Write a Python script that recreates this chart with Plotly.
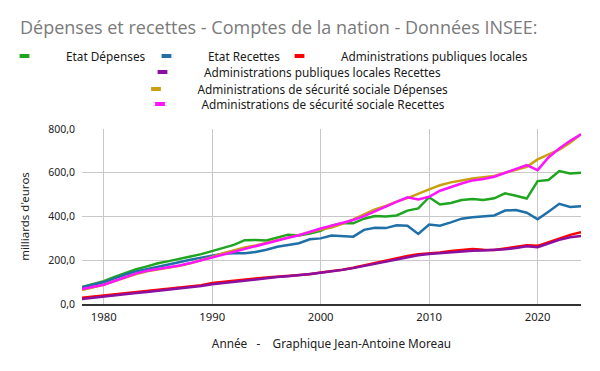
import plotly.graph_objects as go

years = list(range(1978, 2025))

etat_depenses = [78, 91, 104, 124, 143, 159, 172, 186, 196, 205, 217, 228, 243, 255, 270, 292, 293, 290, 303, 317,
                 313, 322, 335, 358, 369, 369, 390, 402, 400, 405, 427, 437, 488, 455, 462, 475, 480, 476, 483, 506,
                 495, 482, 562, 567, 608, 597, 600]
etat_recettes = [76, 87, 99, 117, 135, 149, 160, 172, 183, 192, 202, 212, 222, 230, 232, 232, 238, 248, 262, 270,
                 278, 296, 300, 313, 311, 308, 339, 349, 347, 360, 358, 320, 363, 358, 373, 390, 397, 400, 405, 427,
                 430, 417, 387, 422, 458, 444, 447]
apul_depenses = [28, 33, 38, 44, 50, 56, 60, 65, 70, 75, 80, 86, 96, 102, 108, 112, 117, 121, 125, 127,
                 130, 136, 144, 149, 157, 166, 177, 187, 197, 210, 220, 228, 231, 236, 242, 248, 251, 248, 247, 254,
                 260, 269, 266, 283, 298, 316, 328]
apul_recettes = [23, 29, 34, 39, 44, 50, 55, 60, 65, 70, 75, 82, 90, 96, 102, 108, 113, 118, 123, 127,
                 131, 137, 143, 148, 156, 164, 174, 183, 193, 205, 215, 223, 229, 233, 237, 240, 243, 245, 246, 250,
                 256, 264, 260, 278, 293, 305, 311]
asso_depenses = [64, 75, 88, 105, 122, 137, 150, 158, 166, 175, 186, 200, 215, 232, 246, 258, 268, 280, 291, 305,
                 318, 330, 340, 350, 366, 387, 410, 432, 448, 468, 484, 505, 524, 543, 556, 565, 574, 579, 585, 600,
                 612, 627, 661, 684, 706, 737, 776]
asso_recettes = [68, 78, 88, 105, 123, 140, 152, 160, 166, 176, 187, 200, 214, 228, 240, 254, 266, 278, 292, 303,
                 314, 330, 345, 358, 372, 384, 402, 425, 445, 467, 488, 478, 490, 518, 535, 551, 565, 571, 582, 600,
                 620, 635, 612, 670, 711, 746, 776]

series = [
    ("Etat Dépenses", etat_depenses, "#1fa51f", "legend"),
    ("Etat Recettes", etat_recettes, "#1f6fa8", "legend5"),
    ("Administrations publiques locales", apul_depenses, "#ff0000", "legend6"),
    ("Administrations publiques locales Recettes", apul_recettes, "#8b0fa0", "legend2"),
    ("Administrations de sécurité sociale Dépenses", asso_depenses, "#c9a10e", "legend3"),
    ("Administrations de sécurité sociale Recettes", asso_recettes, "#ff14ff", "legend4"),
]

fig = go.Figure()
for name, vals, color, _ in series:
    fig.add_trace(go.Scatter(x=years, y=vals, mode="lines", name=name,
                             line=dict(color=color, width=2.5), showlegend=False))
for name, vals, color, lg in series:
    fig.add_trace(go.Scatter(x=[None], y=[None], mode="markers", name=name, legend=lg,
                             marker=dict(symbol="line-ew", size=7, line=dict(color=color, width=4))))

# figure pixel geometry (page body has an 8px offset)
W, H = 592, 363
L, R, T, B = 74, 19, 121, 66.7
PW = W - L - R
PH = H - T - B

def py(p):
    return (H - B - p) / PH

def px(p):
    return (p - L) / PW

lfont = dict(family="Noto Sans", size=11.8, color="#1a1a1a")
common = dict(orientation="h", font=lfont, itemwidth=73, bgcolor="rgba(0,0,0,0)",
              yanchor="middle", xanchor="left", tracegroupgap=0, itemclick=False)

fig.update_layout(
    width=W, height=H,
    margin=dict(l=L, r=R, t=T, b=B, autoexpand=False),
    paper_bgcolor="white", plot_bgcolor="white",
    separators=", ",
    title=dict(text="Dépenses et recettes - Comptes de la nation - Données INSEE:",
               x=12 / W, xanchor="left", y=1 - 20 / H, yanchor="middle",
               font=dict(family="Open Sans", size=18, color="#7a7a7a")),
    legend=dict(x=px(-25), y=py(48), **common),
    legend5=dict(x=px(117), y=py(48), **common),
    legend6=dict(x=px(250), y=py(48), **common),
    legend2=dict(x=px(113), y=py(64), **common),
    legend3=dict(x=px(106.5), y=py(81), **common),
    legend4=dict(x=px(110.5), y=py(96), **common),
    xaxis=dict(range=[1978, 2024], tickvals=[1980, 1990, 2000, 2010, 2020],
               showgrid=True, gridcolor="#c8c8c8", gridwidth=1,
               showline=True, linecolor="#333333", linewidth=1.5, zeroline=False,
               ticks="", ticklabelstandoff=2,
               tickfont=dict(family="Noto Sans", size=11.3, color="#222222"),
               title=dict(text="Année   -    Graphique Jean-Antoine Moreau",
                          font=dict(family="Noto Sans", size=11.8, color="#222222"), standoff=16)),
    yaxis=dict(range=[0, 800], tickvals=[0, 200, 400, 600, 800], tickformat=".1f",
               showgrid=True, gridcolor="#c8c8c8", gridwidth=1, zeroline=False,
               showline=False, ticks="", ticklabelstandoff=6,
               tickfont=dict(family="Noto Sans", size=10.5, color="#222222"),
               title=dict(text="milliards d'euros", font=dict(family="Noto Sans", size=11.5, color="#222222"),
                          standoff=16)),
)

fig.write_html("out.html")
